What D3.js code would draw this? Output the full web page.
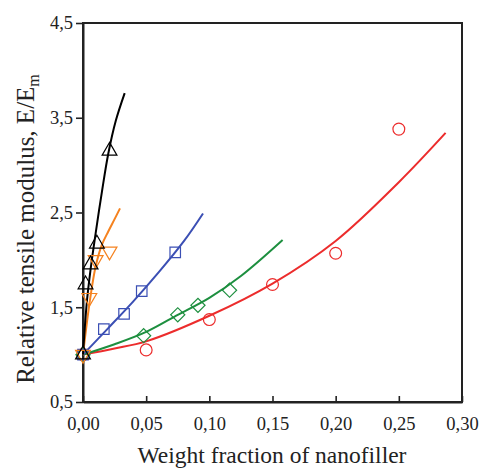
<!DOCTYPE html>
<html><head><meta charset="utf-8">
<script src="https://cdn.jsdelivr.net/npm/d3@7"></script>
<style>body{margin:0;background:#fff}svg{display:block}</style>
</head><body>
<svg id="chart" width="480" height="471"></svg>
<script>
// ---- data ----
const xTicks = [0, 0.05, 0.10, 0.15, 0.20, 0.25, 0.30];
const yTicks = [0.5, 1.5, 2.5, 3.5, 4.5];

// red circles
const redPtsX = [0, 0.05, 0.10, 0.15, 0.20, 0.25];
const redPtsY = [1.0, 1.05, 1.37, 1.74, 2.07, 3.38];
const redFitX = [0, 0.025, 0.05, 0.10, 0.15, 0.20, 0.25, 0.287];
const redFitY = [1.0, 1.065, 1.14, 1.41, 1.75, 2.20, 2.82, 3.34];
// green diamonds
const greenPtsX = [0, 0.048, 0.075, 0.091, 0.116];
const greenPtsY = [1.0, 1.20, 1.42, 1.52, 1.68];
const greenFitX = [0, 0.025, 0.05, 0.075, 0.10, 0.125, 0.158];
const greenFitY = [1.0, 1.11, 1.24, 1.42, 1.60, 1.83, 2.21];
// blue squares
const bluePtsX = [0, 0.0165, 0.0325, 0.0465, 0.073];
const bluePtsY = [1.0, 1.27, 1.43, 1.67, 2.08];
const blueFitX = [0, 0.02, 0.04, 0.06, 0.08, 0.095];
const blueFitY = [1.0, 1.28, 1.565, 1.87, 2.20, 2.49];
// orange inverted triangles
const orangePtsX = [0, 0.005, 0.010, 0.021];
const orangePtsY = [1.0, 1.60, 2.00, 2.09];
const orangeFitX = [0, 0.003, 0.006, 0.010, 0.015, 0.020, 0.025, 0.0293];
const orangeFitY = [1.0, 1.33, 1.62, 1.93, 2.16, 2.30, 2.43, 2.544];
// black triangles
const blackPtsX = [0, 0.002, 0.006, 0.011, 0.021];
const blackPtsY = [1.0, 1.74, 1.95, 2.17, 3.15];
const blackFitX = [0, 0.003, 0.006, 0.010, 0.015, 0.020, 0.026, 0.033];
const blackFitY = [1.0, 1.55, 1.90, 2.28, 2.72, 3.12, 3.47, 3.76];

const series = [
  {color:"#ec2c2c", sym:"circle", px:redPtsX, py:redPtsY, fx:redFitX, fy:redFitY},
  {color:"#1d8f3f", sym:"diamond", px:greenPtsX, py:greenPtsY, fx:greenFitX, fy:greenFitY},
  {color:"#3b4fb4", sym:"square", px:bluePtsX, py:bluePtsY, fx:blueFitX, fy:blueFitY},
  {color:"#f5821f", sym:"down", px:orangePtsX, py:orangePtsY, fx:orangeFitX, fy:orangeFitY},
  {color:"#000000", sym:"up", px:blackPtsX, py:blackPtsY, fx:blackFitX, fy:blackFitY}
];

// ---- layout ----
const svg = d3.select("#chart");
const L = 83, T = 23, W = 379, H = 379;
const x = d3.scaleLinear().domain([0, 0.30]).range([L, L + W]);
const y = d3.scaleLinear().domain([0.5, 4.5]).range([T + H, T]);
const comma = f => v => d3.format(f)(v).replace(".", ",");
const font = "'Liberation Serif', 'Times New Roman', serif";

// frame
svg.append("rect").attr("x", L).attr("y", T).attr("width", W).attr("height", H)
  .attr("fill", "none").attr("stroke", "#222").attr("stroke-width", 2);

// axes
const gx = svg.append("g").attr("transform", `translate(0,${T + H})`)
  .call(d3.axisBottom(x).tickValues(xTicks).tickFormat(comma(".2f")).tickSize(-6).tickSizeOuter(0).tickPadding(15));
const gy = svg.append("g").attr("transform", `translate(${L},0)`)
  .call(d3.axisLeft(y).tickValues(yTicks).tickFormat(comma(".1f")).tickSize(7).tickSizeOuter(0).tickPadding(3));
[gx, gy].forEach(g => {
  g.select(".domain").attr("stroke", "#222").attr("stroke-width", 2);
  g.selectAll(".tick line").attr("stroke", "#222").attr("stroke-width", 1.6);
  g.selectAll(".tick text").attr("font-family", font).attr("font-size", 18.5).attr("fill", "#222");
});

// curves
const line = d3.line().x(d => x(d[0])).y(d => y(d[1])).curve(d3.curveCatmullRom.alpha(0.5));
series.forEach(s => {
  const pts = s.fx.map((v, i) => [v, s.fy[i]]);
  svg.append("path").datum(pts).attr("d", line)
    .attr("fill", "none").attr("stroke", s.color).attr("stroke-width", 2);
});

// markers
const symMap = {
  circle: d3.symbol().type(d3.symbolCircle).size(110),
  square: d3.symbol().type(d3.symbolSquare).size(110),
  diamond: d3.symbol().type(d3.symbolSquare).size(100),
  up: d3.symbol().type(d3.symbolTriangle).size(95),
  down: d3.symbol().type(d3.symbolTriangle).size(95)
};
series.forEach(s => {
  const g = svg.append("g");
  s.px.forEach((v, i) => {
    let rot = 0;
    if (s.sym === "diamond") rot = 45;
    if (s.sym === "down") rot = 180;
    g.append("path").attr("d", symMap[s.sym]())
      .attr("transform", `translate(${x(v)},${y(s.py[i])}) rotate(${rot})`)
      .attr("fill", "none").attr("stroke", s.color).attr("stroke-width", 1.2);
  });
});

// axis titles
svg.append("text").attr("x", 272).attr("y", 463).attr("text-anchor", "middle")
  .attr("font-family", font).attr("font-size", 23.5).attr("fill", "#222")
  .text("Weight fraction of nanofiller");
const yt = svg.append("text").attr("transform", "translate(34,229) rotate(-90)")
  .attr("text-anchor", "middle").attr("font-family", font).attr("font-size", 25).attr("fill", "#222");
yt.append("tspan").text("Relative tensile modulus, E/E");
yt.append("tspan").attr("font-size", 16).attr("dy", 5).text("m");
</script>
</body></html>
